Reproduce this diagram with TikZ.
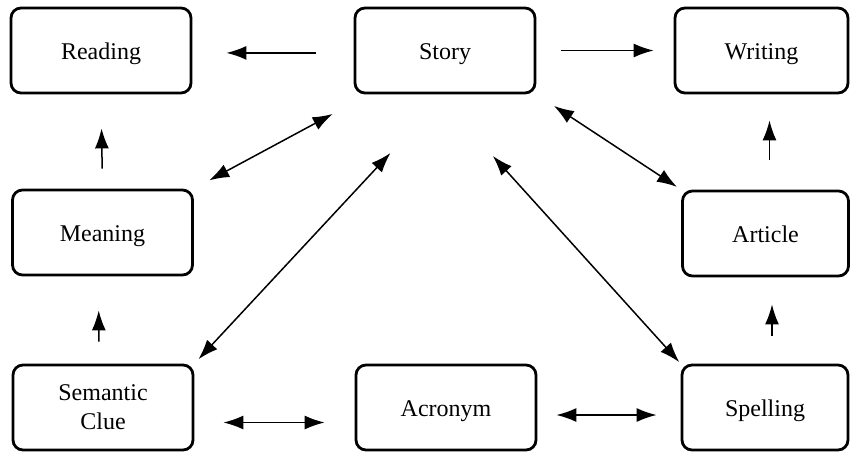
\documentclass[tikz,border=0pt]{standalone}
\usepackage{fontspec}
\setmainfont{Liberation Serif}
\usetikzlibrary{arrows.meta}

\begin{document}
\begin{tikzpicture}[
    x=0.5pt, y=-0.5pt,
    every node/.append style={font=\rmfamily\fontsize{12}{14.5}\selectfont},
    % box styles
    skillbox/.style={draw, line width=1.4pt, rounded corners=5pt, minimum width=90pt, minimum height=42.5pt, align=center, text height=12pt, text depth=3pt},
    rightbox/.style={skillbox, minimum width=83pt},
    arrow/.style={-{Latex[length=10pt, width=7pt]}, line width=0.75pt},
    biarrow/.style={{Latex[length=10pt, width=7pt]}-{Latex[length=10pt, width=7pt]}, line width=0.75pt},
]
\useasboundingbox (0,0) rectangle (851,452);

% ========== top row ==========
\node[skillbox] (reading) at (101, 50.5) {Reading};
\node[skillbox] (story) at (445, 50.5) {Story};
\node[rightbox, minimum width=86.5pt] (writing) at (761.5, 50.5) {Writing};

% ========== middle row ==========
\node[skillbox] (meaning) at (102.5, 232.5) {Meaning};
\node[rightbox] (article) at (765.5, 233.5) {Article};

% ========== bottom row ==========
\node[skillbox, text height=, text depth=] (semantic) at (103, 407.5) {Semantic\\Clue};
\node[skillbox] (acronym) at (446, 407.5) {Acronym};
\node[rightbox] (spelling) at (765, 407.5) {Spelling};

% horizontal arrows
\draw[arrow, shorten <=19pt, shorten >=17pt] ([yshift=-1.2pt]story.west) -- ([yshift=-1.2pt]reading.east);
\draw[arrow, shorten <=12.5pt, shorten >=10pt] (story.east) -- (writing.west);
\draw[biarrow, shorten <=14.5pt, shorten >=15pt] ([yshift=-7.5pt]semantic.east) -- ([yshift=-7.5pt]acronym.west);
\draw[biarrow, shorten <=9.5pt, shorten >=12pt] ([yshift=-3.75pt]acronym.east) -- ([yshift=-3.75pt]spelling.west);

% vertical arrows
\draw[arrow, shorten <=10pt, shorten >=17pt] (meaning.north) -- (reading.south);
\draw[arrow, shorten <=11pt, shorten >=17pt] ([xshift=-2pt]semantic.north) -- ([xshift=-2pt]meaning.south);
\draw[arrow, shorten <=15pt, shorten >=13pt] ([xshift=2pt]article.north) -- ([xshift=2pt]article.north |- writing.south);
\draw[arrow, shorten <=14pt, shorten >=13.5pt] ([xshift=3.5pt]spelling.north) -- ([xshift=3.5pt]spelling.north |- article.south);

% diagonal arrows from Story
\draw[biarrow, shorten <=20.6pt, shorten >=8.7pt] (story.210) -- (meaning.north east);
\draw[biarrow, shorten <=40pt, shorten >=3pt] (story.south) -- (semantic.north east);
\draw[biarrow, shorten <=41.5pt, shorten >=1pt] (story.260) -- (spelling.north west);
\draw[biarrow, shorten <=10.5pt, shorten >=2.5pt] (story.south east) -- (article.north west);

\end{tikzpicture}
\end{document}
